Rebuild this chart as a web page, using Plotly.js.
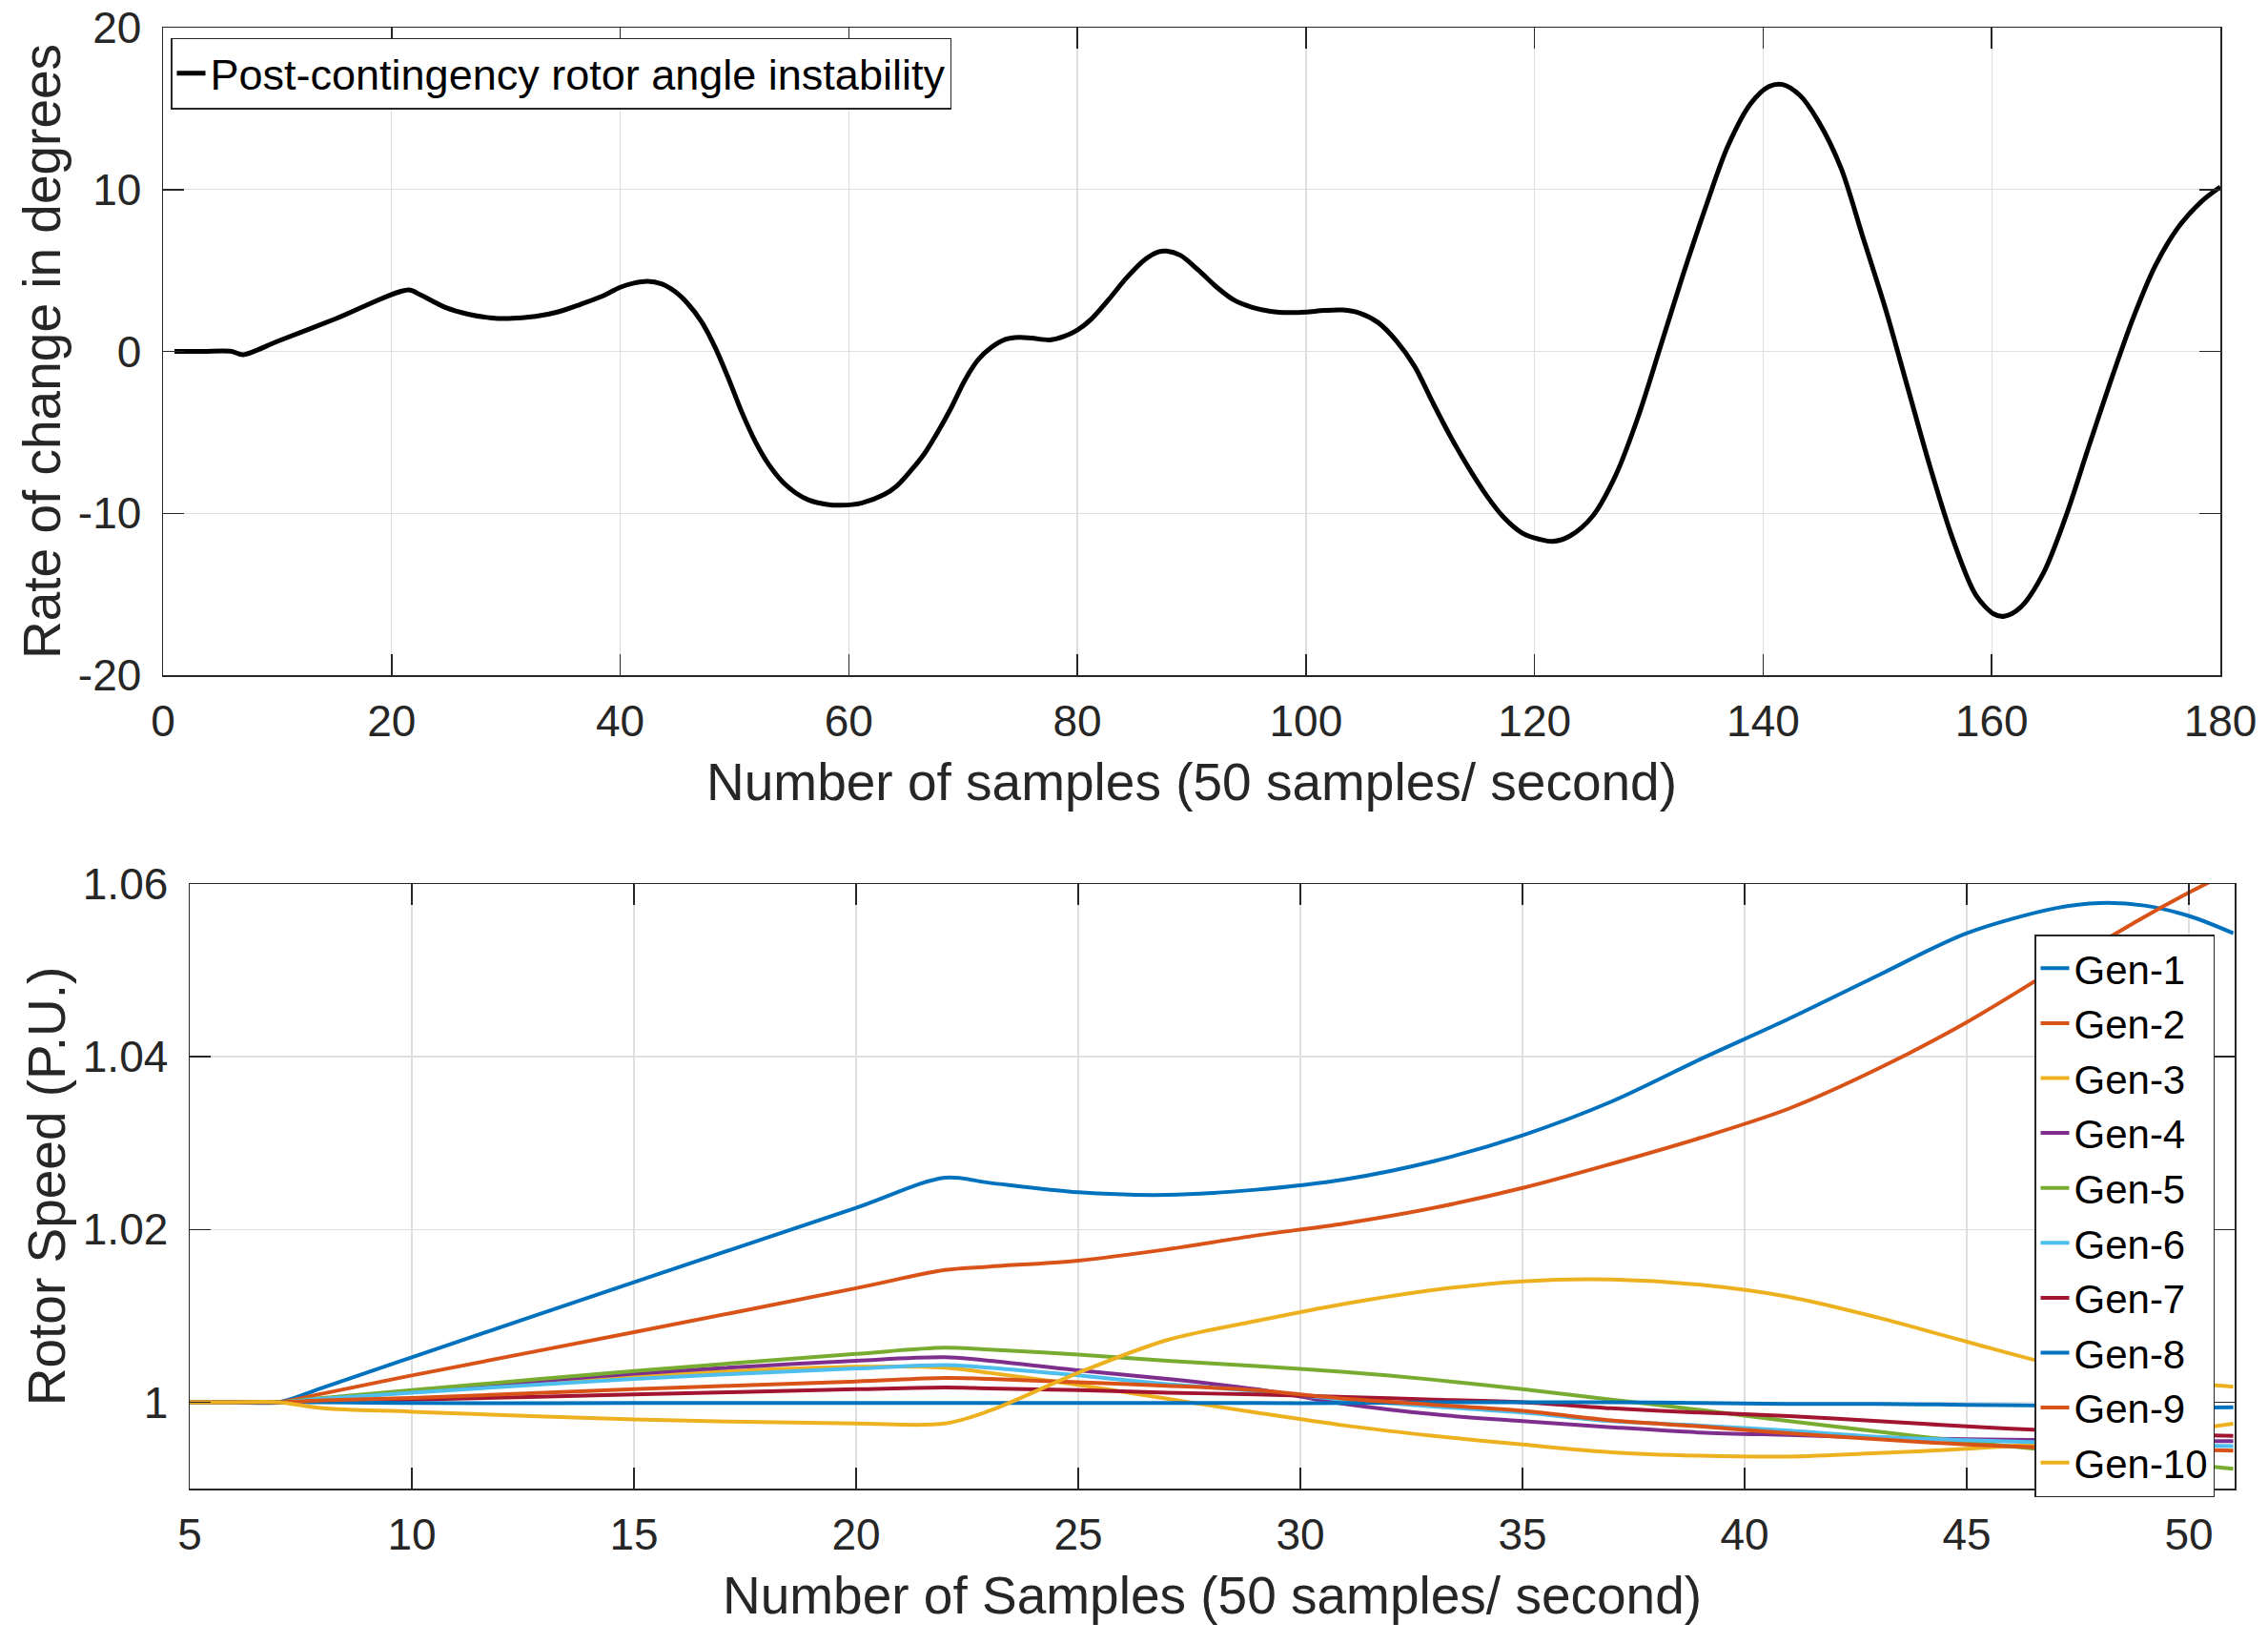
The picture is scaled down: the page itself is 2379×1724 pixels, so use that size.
<!DOCTYPE html>
<html>
<head>
<meta charset="utf-8">
<script src="https://cdn.plot.ly/plotly-3.0.1.min.js"></script>
<style>
  html, body { margin: 0; padding: 0; background: #ffffff; }
  #chart { width: 2379px; height: 1724px; }
</style>
</head>
<body>
<div id="chart"></div>
<script>
// ---- Top panel: rate of change in rotor angle (degrees) vs sample ----
const angleSamples = [1, 3.5, 6, 7, 10, 15, 21.5, 22.5, 24.7, 26.7, 28.6, 30.2, 32.6, 34.5, 36.5, 38.5, 40, 41.2, 42.4, 43.6, 44.8, 45.9, 47.1, 48.3, 49.5, 50.6, 51.8, 53, 54.2, 55.4, 56.5, 58.1, 59.3, 61.1, 63.1, 64.2, 65.4, 66.6, 67.8, 69, 70.1, 71.3, 72.5, 73.7, 74.9, 76, 77.6, 78.8, 80, 81.2, 82.7, 84.3, 85.9, 87.1, 87.8, 89, 90.6, 92.2, 93.7, 95.3, 96.9, 98.5, 100, 101.6, 103.2, 104.7, 106.3, 107.9, 109.5, 111, 112.6, 114.2, 115.8, 117.3, 118.9, 120.5, 121.6, 123.1, 125.1, 127.1, 129.1, 131, 133, 135, 136.9, 138.9, 140.5, 141.7, 143.2, 144.8, 146.8, 148.7, 150.7, 152.7, 154.6, 156.6, 158.6, 160.2, 161.1, 162.5, 164.5, 166.5, 168.4, 170.4, 172.4, 174.3, 176.3, 178.3, 180];
const angleRate = [0, 0, 0, -0.2, 0.62, 1.99, 3.8, 3.5, 2.72, 2.30, 2.08, 2.03, 2.16, 2.43, 2.90, 3.43, 3.96, 4.22, 4.33, 4.17, 3.69, 2.96, 1.85, 0.26, -1.72, -3.69, -5.54, -6.99, -8.05, -8.76, -9.18, -9.45, -9.5, -9.37, -8.84, -8.31, -7.39, -6.33, -4.96, -3.43, -1.85, -0.53, 0.26, 0.74, 0.87, 0.82, 0.71, 0.92, 1.32, 1.98, 3.17, 4.54, 5.67, 6.15, 6.2, 5.94, 5.01, 3.96, 3.17, 2.72, 2.48, 2.40, 2.43, 2.53, 2.56, 2.37, 1.79, 0.66, -0.92, -3.03, -5.20, -7.15, -8.90, -10.25, -11.21, -11.62, -11.74, -11.40, -10.16, -7.65, -3.96, 0.26, 4.75, 8.97, 12.66, 15.30, 16.36, 16.49, 15.83, 14.25, 11.35, 7.12, 2.64, -2.37, -7.12, -11.61, -15.04, -16.23, -16.36, -15.83, -13.72, -10.16, -6.07, -1.85, 2.11, 5.28, 7.65, 9.23, 10.16];
const angleName = "Post-contingency rotor angle instability";
const topXTicks = [0, 20, 40, 60, 80, 100, 120, 140, 160, 180];
const topYTicks = [-20, -10, 0, 10, 20];
const topYTickText = ["-20", "-10", "0", "10", "20"];

// ---- Bottom panel: rotor speed (P.U.) per generator ----
const genSamples = [5, 6, 7, 8, 10, 15, 20, 22, 23, 25, 27, 29, 31, 33, 35, 37, 39, 41, 43, 45, 47, 48, 49, 50, 51];
const gen1  = [1, 1, 1, 1.0017, 1.0052, 1.0139, 1.0225, 1.0260, 1.0254, 1.0243, 1.0240, 1.0246, 1.0258, 1.0279, 1.0309, 1.0348, 1.0397, 1.0444, 1.0494, 1.0543, 1.0572, 1.0578, 1.0575, 1.0563, 1.0543];
const gen2  = [1, 1, 1, 1.0010, 1.0031, 1.0081, 1.0132, 1.0153, 1.0157, 1.0164, 1.0177, 1.0193, 1.0207, 1.0225, 1.0248, 1.0276, 1.0306, 1.0340, 1.0386, 1.0440, 1.0502, 1.0532, 1.0562, 1.0590, 1.0616];
const gen3  = [1, 1, 1, 1.0004, 1.0012, 1.0030, 1.0041, 1.0040, 1.0034, 1.0020, 1.0004, 0.9988, 0.9973, 0.9961, 0.9951, 0.9942, 0.9938, 0.9937, 0.9941, 0.9946, 0.9953, 0.9957, 0.9962, 0.9968, 0.9975];
const gen4  = [1, 1, 1, 1.0004, 1.0012, 1.0033, 1.0048, 1.0052, 1.0048, 1.0037, 1.0027, 1.0015, 0.9998, 0.9986, 0.9978, 0.9971, 0.9965, 0.9962, 0.9959, 0.9957, 0.9956, 0.9956, 0.9955, 0.9955, 0.9955];
const gen5  = [1, 1, 1, 1.0005, 1.0014, 1.0036, 1.0056, 1.0063, 1.0061, 1.0055, 1.0048, 1.0042, 1.0035, 1.0026, 1.0015, 1.0003, 0.9991, 0.9978, 0.9966, 0.9954, 0.9944, 0.9939, 0.9934, 0.9928, 0.9923];
const gen6  = [1, 1, 1, 1.0004, 1.0011, 1.0027, 1.0039, 1.0043, 1.0040, 1.0031, 1.0021, 1.0013, 1.0003, 0.9995, 0.9988, 0.9978, 0.9973, 0.9967, 0.9960, 0.9956, 0.9953, 0.9952, 0.9951, 0.9950, 0.9949];
const gen7  = [1, 1, 1, 1.0001, 1.0003, 1.0009, 1.0015, 1.0017, 1.0016, 1.0014, 1.0011, 1.0009, 1.0006, 1.0003, 1.0000, 0.9993, 0.9988, 0.9984, 0.9978, 0.9972, 0.9967, 0.9965, 0.9963, 0.9962, 0.9961];
const gen8  = [1, 1, 1, 1, 0.9999, 0.9999, 0.9999, 0.9999, 0.9999, 0.9999, 0.9999, 0.9999, 0.9999, 1.0, 1.0, 1.0, 0.9999, 0.9998, 0.9998, 0.9997, 0.9996, 0.9995, 0.9995, 0.9994, 0.9994];
const gen9  = [1, 1, 1, 1.0002, 1.0005, 1.0015, 1.0024, 1.0028, 1.0027, 1.0023, 1.0019, 1.0014, 1.0004, 0.9997, 0.9990, 0.9979, 0.9972, 0.9964, 0.9957, 0.9951, 0.9947, 0.9946, 0.9945, 0.9945, 0.9944];
const gen10 = [1, 1, 1, 0.9993, 0.9989, 0.9980, 0.99753, 0.99753, 0.9990, 1.0034, 1.0072, 1.0094, 1.0114, 1.0130, 1.0140, 1.0142, 1.0136, 1.0122, 1.0098, 1.0070, 1.0043, 1.0035, 1.0028, 1.0022, 1.0018];
const genNames = ["Gen-1", "Gen-2", "Gen-3", "Gen-4", "Gen-5", "Gen-6", "Gen-7", "Gen-8", "Gen-9", "Gen-10"];
const genColors = ["#0072BD", "#D95319", "#EDB120", "#7E2F8E", "#77AC30", "#4DBEEE", "#A2142F", "#0072BD", "#D95319", "#EDB120"];
const botXTicks = [5, 10, 15, 20, 25, 30, 35, 40, 45, 50];
const botYTicks = [1, 1.02, 1.04, 1.06];
const botYTickText = ["1", "1.02", "1.04", "1.06"];

const genSeries = [gen1, gen2, gen3, gen4, gen5, gen6, gen7, gen8, gen9, gen10];

const FONT = "Liberation Sans, Arial, Helvetica, sans-serif";
const INK = "#262626";
const GRID = "#dfdfdf";

const traces = [{
  x: angleSamples, y: angleRate, name: angleName, type: "scatter", mode: "lines",
  line: { color: "#000000", width: 5, shape: "spline", smoothing: 0.9 },
  xaxis: "x", yaxis: "y", legend: "legend", showlegend: true
}];
genSeries.forEach((s, i) => {
  traces.push({
    x: genSamples, y: s, name: genNames[i], type: "scatter", mode: "lines",
    line: { color: genColors[i], width: 4, shape: "spline", smoothing: 0.9 },
    xaxis: "x2", yaxis: "y2", legend: "legend2", showlegend: true
  });
});

function axisBase() {
  return {
    showline: true, linecolor: INK, linewidth: 1.5, mirror: "ticks",
    ticks: "inside", ticklen: 22, tickwidth: 1.5, tickcolor: INK,
    showgrid: true, gridcolor: GRID, gridwidth: 1.3, zeroline: false,
    tickfont: { family: FONT, size: 46, color: INK },
    fixedrange: true
  };
}

const layout = {
  width: 2379, height: 1724,
  margin: { l: 0, r: 0, t: 0, b: 0 },
  paper_bgcolor: "#ffffff", plot_bgcolor: "#ffffff",
  font: { family: FONT, color: INK },
  xaxis: Object.assign(axisBase(), {
    domain: [171 / 2379, 2329 / 2379], anchor: "y",
    range: [0, 180], tickmode: "array", tickvals: topXTicks,
    ticklabelstandoff: 7,
    title: { text: "Number of samples (50 samples/ second)", font: { family: FONT, size: 55, color: INK }, standoff: 20 }
  }),
  yaxis: Object.assign(axisBase(), {
    domain: [1016 / 1724, 1695 / 1724], anchor: "x",
    range: [-20, 20], tickmode: "array", tickvals: topYTicks, ticktext: topYTickText,
    ticklabelstandoff: 12,
    title: { text: "Rate of change in degrees", font: { family: FONT, size: 55, color: INK }, standoff: 0 }
  }),
  xaxis2: Object.assign(axisBase(), {
    domain: [199 / 2379, 2344 / 2379], anchor: "y2",
    range: [5, 51.03], tickmode: "array", tickvals: botXTicks,
    ticklabelstandoff: 7,
    title: { text: "Number of Samples (50 samples/ second)", font: { family: FONT, size: 55, color: INK }, standoff: 20 }
  }),
  yaxis2: Object.assign(axisBase(), {
    domain: [163 / 1724, 797 / 1724], anchor: "x2",
    range: [0.99, 1.06], tickmode: "array", tickvals: botYTicks, ticktext: botYTickText,
    ticklabelstandoff: 12,
    title: { text: "Rotor Speed (P.U.)", font: { family: FONT, size: 55, color: INK }, standoff: 0 }
  }),
  legend: {
    x: 179 / 2379, y: 1 - 39.5 / 1724, xanchor: "left", yanchor: "top",
    xref: "paper", yref: "paper",
    bgcolor: "#ffffff", bordercolor: INK, borderwidth: 1.5,
    font: { family: FONT, size: 45, color: "#000000" }
  },
  legend2: {
    x: 2134 / 2379, y: 1 - 980 / 1724, xanchor: "left", yanchor: "top",
    xref: "paper", yref: "paper",
    bgcolor: "#ffffff", bordercolor: INK, borderwidth: 1.5,
    font: { family: FONT, size: 42, color: "#000000" },
    traceorder: "normal"
  },
  showlegend: true
};

Plotly.newPlot("chart", traces, layout, { staticPlot: true, displayModeBar: false });
</script>
</body>
</html>
